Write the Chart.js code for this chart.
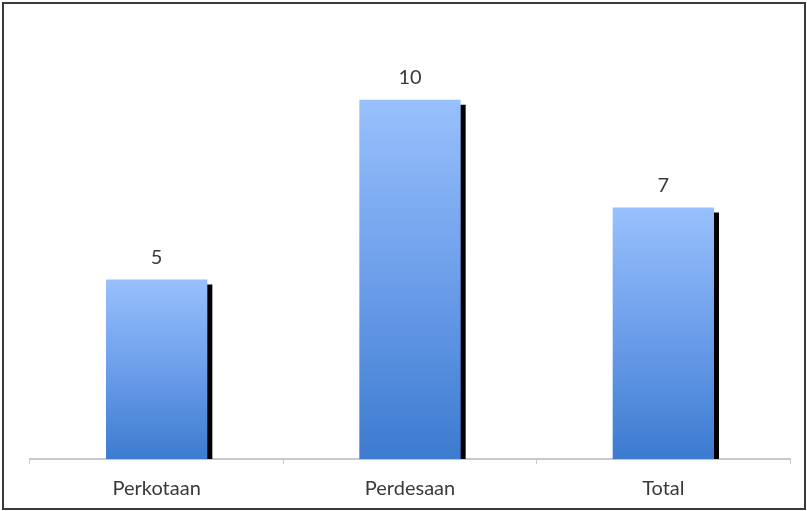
<!DOCTYPE html>
<html>
<head>
<meta charset="utf-8">
<script src="https://cdn.jsdelivr.net/npm/chart.js@4"></script>
<style>
html,body{margin:0;padding:0;background:#fff;}
#wrap{width:807px;height:511px;position:relative;}
</style>
</head>
<body>
<div id="wrap"><canvas id="c" width="807" height="511"></canvas></div>
<script>
const categories = ["Perkotaan", "Perdesaan", "Total"];
const values = [5, 10, 7];
const yMin = 0;
const yMax = 12;

const FONT = "Lato, 'Open Sans', sans-serif";

const shadowPlugin = {
  id: 'barShadow',
  beforeDatasetDraw(chart) {
    const ctx = chart.ctx;
    ctx.save();
    ctx.shadowColor = '#000000';
    ctx.shadowOffsetX = 5;
    ctx.shadowOffsetY = 5;
    ctx.shadowBlur = 0;
  },
  afterDatasetDraw(chart) {
    chart.ctx.restore();
  }
};

const labelPlugin = {
  id: 'valueLabels',
  afterDatasetsDraw(chart) {
    const ctx = chart.ctx;
    const meta = chart.getDatasetMeta(0);
    ctx.save();
    ctx.font = "20px " + FONT;
    ctx.fillStyle = '#3a3a3a';
    ctx.textAlign = 'center';
    ctx.textBaseline = 'middle';
    meta.data.forEach((bar, i) => {
      ctx.fillText(String(values[i]), bar.x, bar.y - 22);
    });
    ctx.restore();
  }
};

const borderPlugin = {
  id: 'frame',
  afterDraw(chart) {
    const ctx = chart.ctx;
    ctx.save();
    ctx.strokeStyle = '#3a3a3a';
    ctx.lineWidth = 2;
    ctx.strokeRect(3, 3, chart.width - 5, chart.height - 5);
    ctx.restore();
  }
};

const ctx = document.getElementById('c').getContext('2d');
const chart = new Chart(ctx, {
  type: 'bar',
  data: {
    labels: categories,
    datasets: [{
      data: values,
      backgroundColor(context) {
        const ch = context.chart;
        const area = ch.chartArea;
        if (!area) return '#5b8fe0';
        const yTop = ch.scales.y.getPixelForValue(values[context.dataIndex]);
        const yBot = ch.scales.y.getPixelForValue(0);
        const g = ch.ctx.createLinearGradient(0, yTop, 0, yBot);
        g.addColorStop(0, '#98c0fc');
        g.addColorStop(0.5, '#6c9eea');
        g.addColorStop(1, '#3c7bd0');
        return g;
      },
      borderWidth: 0,
      categoryPercentage: 1.0,
      barPercentage: 0.4
    }]
  },
  options: {
    responsive: false,
    animation: false,
    layout: { padding: { left: 30, right: 17, top: 28, bottom: 0 } },
    plugins: { legend: { display: false }, tooltip: { enabled: false } },
    scales: {
      y: { display: false, min: yMin, max: yMax },
      x: {
        grid: { drawOnChartArea: false, drawTicks: true, tickLength: 5, color: '#c8c8c8', offset: true },
        border: { display: true, color: '#c8c8c8', width: 2 },
        ticks: { font: { family: FONT, size: 20 }, color: '#3a3a3a', padding: 13 },
        afterFit(scale) { scale.height = 52; }
      }
    }
  },
  plugins: [shadowPlugin, labelPlugin, borderPlugin]
});
</script>
</body>
</html>
